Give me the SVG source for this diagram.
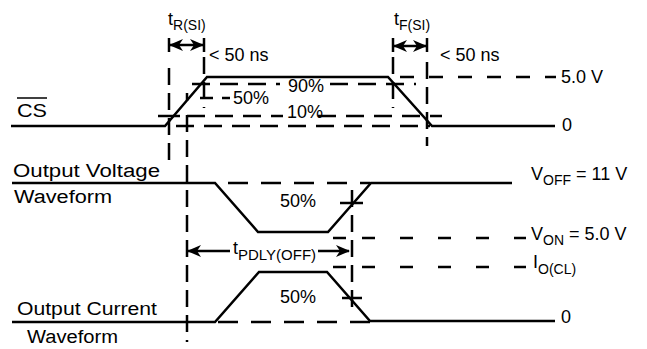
<svg xmlns="http://www.w3.org/2000/svg" width="647" height="349" viewBox="0 0 647 349">
<style>
.sig{fill:none;stroke:#000;stroke-width:2.5;stroke-linejoin:miter}
.dh{fill:none;stroke:#000;stroke-width:2.5;stroke-dasharray:18 10}
.dl{fill:none;stroke:#000;stroke-width:2.5;stroke-dasharray:20 13}
.dv{fill:none;stroke:#000;stroke-width:2.5;stroke-dasharray:17 8}
.dw{fill:none;stroke:#000;stroke-width:2.5;stroke-dasharray:13 25}
.d5{fill:none;stroke:#000;stroke-width:2.5;stroke-dasharray:14 15}
.tk{fill:none;stroke:#000;stroke-width:2.5}
.ar{fill:none;stroke:#000;stroke-width:2.5}
text{font-family:"Liberation Sans",Arial,sans-serif;fill:#000}
.l{font-size:18px}
.m{font-size:18px}
.s{font-size:14px}
.s15{font-size:15px}
</style>
<defs>
<marker id="ah" viewBox="0 0 14 12" refX="13" refY="6" markerWidth="14" markerHeight="12" markerUnits="userSpaceOnUse" orient="auto-start-reverse">
<path d="M0,0 L14,6 L0,12 L4,6 Z" fill="#000"/>
</marker>
</defs>

<g id="reference-lines">
<!-- CS reference levels -->
<line class="d5" x1="400" y1="77" x2="556" y2="77"/>
<line class="dh" x1="192" y1="84" x2="280" y2="84"/>
<line class="dh" x1="330" y1="84" x2="416" y2="84"/>
<line class="tk" x1="200" y1="98" x2="213" y2="98"/>
<line class="tk" x1="222" y1="98" x2="230" y2="98"/>
<line class="dh" x1="187" y1="116" x2="283" y2="116"/>
<line class="dh" x1="318" y1="116" x2="442" y2="116"/>
<line class="dh" x1="176" y1="126" x2="430" y2="126"/>
<!-- verticals -->
<line class="dv" x1="169" y1="68" x2="169" y2="168"/>
<line class="dv" x1="204" y1="57" x2="204" y2="108"/>
<line class="dv" x1="393" y1="57" x2="393" y2="108"/>
<line class="dv" x1="427" y1="62" x2="427" y2="146"/>
<line class="tk" x1="187" y1="93" x2="187" y2="101"/>
<line class="dv" x1="187" y1="115" x2="187" y2="342"/>
<line class="dv" x1="352" y1="190" x2="352" y2="310"/>
<!-- output levels -->
<line class="dl" x1="228" y1="183" x2="370" y2="183"/>
<line class="dl" x1="218" y1="322" x2="370" y2="322"/>
<line class="tk" x1="333" y1="238" x2="346" y2="238"/>
<line class="dw" x1="362" y1="238" x2="526" y2="238"/>
<line class="tk" x1="333" y1="267" x2="346" y2="267"/>
<line class="dw" x1="362" y1="267" x2="526" y2="267"/>
</g>

<g id="cs-waveform">
<polyline class="sig" points="11,126 165,126 207,77 388,77 432,126 555,126"/>
<line class="tk" x1="158" y1="116" x2="180" y2="116"/>
</g>

<g id="output-voltage-waveform">
<polyline class="sig" points="12,183 215,183 258,232 328,232 371,183 512,183"/>
<line class="tk" x1="340" y1="203" x2="363" y2="203"/>
</g>

<g id="output-current-waveform">
<polyline class="sig" points="12,322 215,322 259,272 327,272 370,321 555,321"/>
<line class="tk" x1="342" y1="298" x2="362" y2="298"/>
</g>

<g id="connectors">
<line class="tk" x1="169" y1="38" x2="169" y2="52"/>
<line class="tk" x1="204" y1="38" x2="204" y2="52"/>
<line class="ar" x1="170" y1="45" x2="203" y2="45" marker-start="url(#ah)" marker-end="url(#ah)"/>
<line class="tk" x1="393" y1="38" x2="393" y2="52"/>
<line class="tk" x1="427" y1="38" x2="427" y2="52"/>
<line class="ar" x1="394" y1="46" x2="426" y2="46" marker-start="url(#ah)" marker-end="url(#ah)"/>
<line class="ar" x1="188" y1="251" x2="230" y2="251" marker-start="url(#ah)"/>
<line class="ar" x1="318" y1="251" x2="349" y2="251" marker-end="url(#ah)"/>
</g>

<g id="labels">
<text class="m" x="168" y="25">t<tspan class="s" dy="5">R(SI)</tspan></text>
<text class="m" x="394" y="25">t<tspan class="s" dy="5">F(SI)</tspan></text>
<text class="m" x="209" y="61">&lt; 50 ns</text>
<text class="m" x="440" y="61">&lt; 50 ns</text>
<text class="m" x="561" y="83">5.0 V</text>
<text class="m" x="288" y="92">90%</text>
<text class="m" x="233" y="104">50%</text>
<text class="m" x="287" y="118">10%</text>
<text class="m" x="562" y="131">0</text>
<text class="l" x="17" y="117" textLength="30" lengthAdjust="spacingAndGlyphs">CS</text>
<line x1="17" y1="98" x2="47" y2="98" stroke="#000" stroke-width="1.5"/>
<text class="l" x="13" y="177" textLength="147" lengthAdjust="spacingAndGlyphs">Output Voltage</text>
<text class="l" x="14" y="203" textLength="98" lengthAdjust="spacingAndGlyphs">Waveform</text>
<text class="m" x="280" y="207">50%</text>
<text class="m" x="233" y="254">t<tspan class="s15" dy="6">PDLY(OFF)</tspan></text>
<text class="m" x="280" y="303">50%</text>
<text class="l" x="17" y="315" textLength="140" lengthAdjust="spacingAndGlyphs">Output Current</text>
<text class="l" x="27" y="343" textLength="91" lengthAdjust="spacingAndGlyphs">Waveform</text>
<text class="m" x="531" y="180">V<tspan class="s" dy="5">OFF</tspan><tspan dy="-5"> = 11 V</tspan></text>
<text class="m" x="531" y="240">V<tspan class="s" dy="5">ON</tspan><tspan dy="-5"> = 5.0 V</tspan></text>
<text class="m" x="533" y="268">I<tspan class="s" dy="6">O(CL)</tspan></text>
<text class="m" x="561" y="323">0</text>
</g>
</svg>
